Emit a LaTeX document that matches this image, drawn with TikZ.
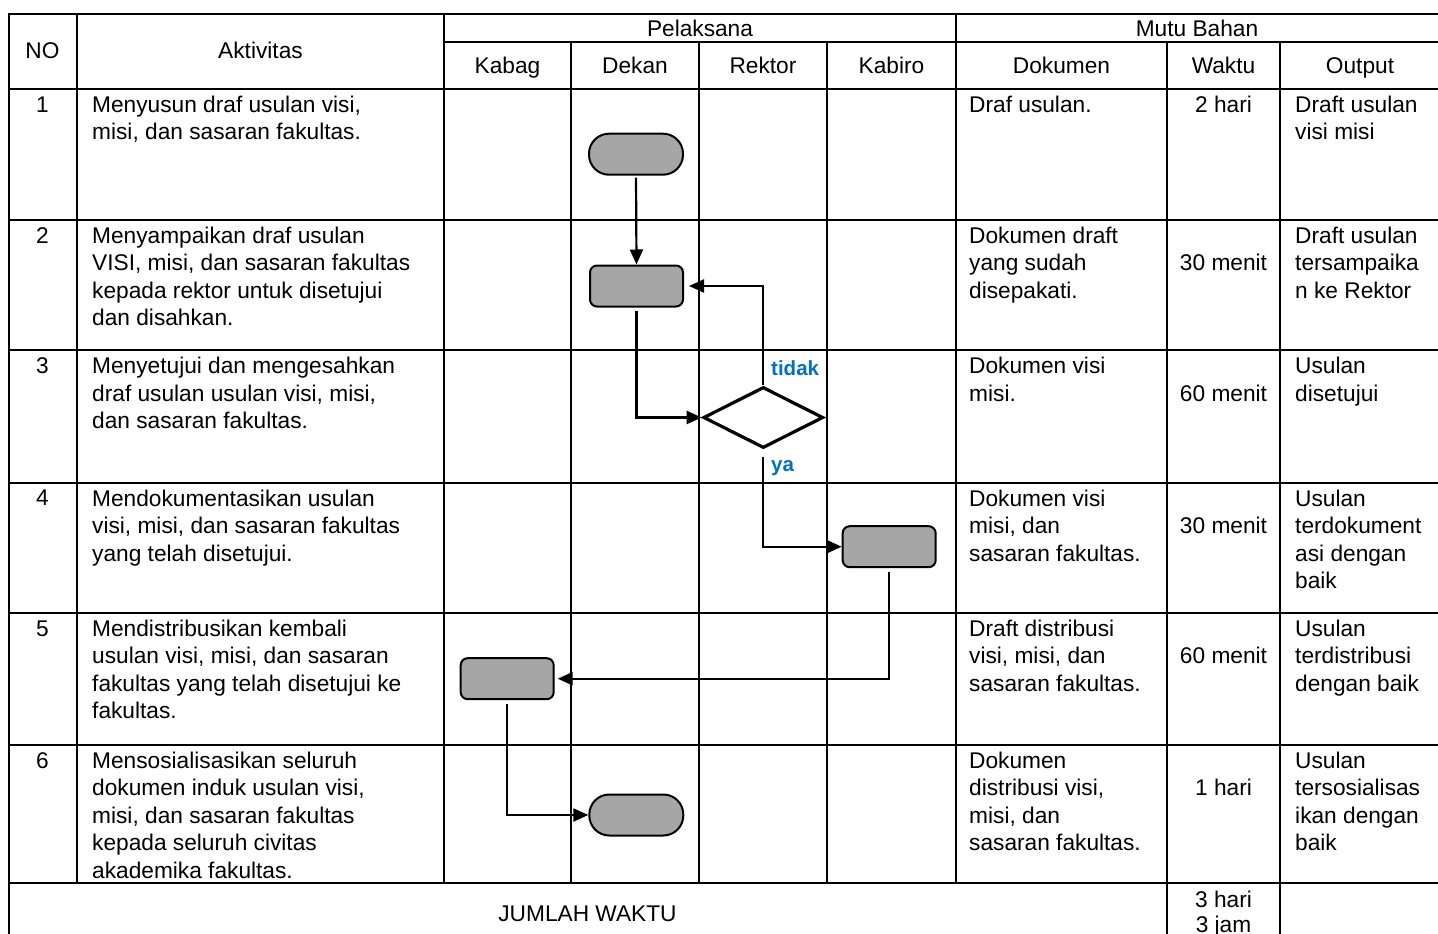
\documentclass[tikz,border=0pt]{standalone}
\usepackage{fontspec}
\setmainfont{Liberation Sans}
\usetikzlibrary{arrows.meta,shapes.geometric}
\definecolor{shapegray}{HTML}{A6A6A6}
\definecolor{lblblue}{RGB}{0,112,192}
\newcommand\cellfont{\fontsize{22.7}{27.5}\selectfont}
\tikzset{
  grid/.style={line width=2pt, line cap=rect},
  cell/.style={font=\cellfont, anchor=north west, inner sep=0pt, align=left},
  ctext/.style={font=\cellfont, anchor=base, inner sep=0pt, align=center},
  terminal/.style={draw=black, line width=2pt, fill=shapegray, minimum width=94pt, minimum height=41pt, rounded corners=20pt, inner sep=0pt},
  process/.style={draw=black, line width=2pt, fill=shapegray, minimum width=93pt, minimum height=41pt, rounded corners=7pt, inner sep=0pt},
  decision/.style={diamond, draw=black, line width=3.2pt, fill=white, minimum width=120pt, minimum height=61pt, inner sep=0pt},
  conn/.style={line width=2.2pt, -{Triangle[length=15pt,width=13pt]}},
  lbl/.style={font=\fontsize{20.5}{24}\selectfont\bfseries, text=lblblue, inner sep=0pt, anchor=west}
}
\begin{document}
\begin{tikzpicture}[x=1pt,y=-1pt]
\useasboundingbox (0,0) rectangle (1438,934);
% ---------- table grid ----------
\foreach \yy in {14.5,88.7,219.5,350,482.7,612.7,744.7,883.3}
  \draw[grid] (8.5,\yy) -- (1440,\yy);
\draw[grid] (444,42.5) -- (1440,42.5);
\draw[grid] (8.5,14.5) -- (8.5,940);
\foreach \xx in {77,444,956}
  \draw[grid] (\xx,14.5) -- (\xx,883.3);
\foreach \xx in {571,699,827}
  \draw[grid] (\xx,42.5) -- (\xx,883.3);
\foreach \xx in {1167,1280}
  \draw[grid] (\xx,42.5) -- (\xx,940);
% ---------- header ----------
\node[ctext] (hno) at (42.5,59) {NO};
\node[ctext] (hakt) at (260.5,59) {Aktivitas};
\node[ctext] (hpel) at (700,37) {Pelaksana};
\node[ctext] (hmutu) at (1197,37) {Mutu Bahan};
\node[ctext] (hkabag) at (507.5,74) {Kabag};
\node[ctext] (hdekan) at (635,74) {Dekan};
\node[ctext] (hrektor) at (763,74) {Rektor};
\node[ctext] (hkabiro) at (891.5,74) {Kabiro};
\node[ctext] (hdok) at (1061.5,74) {Dokumen};
\node[ctext] (hwaktu) at (1223.5,74) {Waktu};
\node[ctext] (hout) at (1360,74) {Output};
% ---------- row 1 ----------
\node[ctext] (n1) at (42.5,112.2) {1};
\node[cell] (a1) at (92,92.95) {\strut Menyusun draf usulan visi,\\misi, dan sasaran fakultas.};
\node[cell] (d1) at (969,92.95) {\strut Draf usulan.};
\node[ctext] (w1) at (1223.5,112.2) {2 hari};
\node[cell] (o1) at (1295,92.95) {\strut Draft usulan\\visi misi};
% ---------- row 2 ----------
\node[ctext] (n2) at (42.5,243) {2};
\node[cell] (a2) at (92,223.75) {\strut Menyampaikan draf usulan\\VISI, misi, dan sasaran fakultas\\kepada rektor untuk disetujui\\dan disahkan.};
\node[cell] (d2) at (969,223.75) {\strut Dokumen draft\\yang sudah\\disepakati.};
\node[ctext] (w2) at (1223.5,270.5) {30 menit};
\node[cell] (o2) at (1295,223.75) {\strut Draft usulan\\tersampaika\\n ke Rektor};
% ---------- row 3 ----------
\node[ctext] (n3) at (42.5,373.5) {3};
\node[cell] (a3) at (92,354.25) {\strut Menyetujui dan mengesahkan\\draf usulan usulan visi, misi,\\dan sasaran fakultas.};
\node[cell] (d3t) at (969,354.25) {\strut Dokumen visi\\misi.};
\node[ctext] (w3) at (1223.5,401) {60 menit};
\node[cell] (o3) at (1295,354.25) {\strut Usulan\\disetujui};
% ---------- row 4 ----------
\node[ctext] (n4) at (42.5,505.2) {4};
\node[cell] (a4) at (92,486.95) {\strut Mendokumentasikan usulan\\visi, misi, dan sasaran fakultas\\yang telah disetujui.};
\node[cell] (d4) at (969,486.95) {\strut Dokumen visi\\misi, dan\\sasaran fakultas.};
\node[ctext] (w4) at (1223.5,533.7) {30 menit};
\node[cell] (o4) at (1295,486.95) {\strut Usulan\\terdokument\\asi dengan\\baik};
% ---------- row 5 ----------
\node[ctext] (n5) at (42.5,636.2) {5};
\node[cell] (a5) at (92,616.95) {\strut Mendistribusikan kembali\\usulan visi, misi, dan sasaran\\fakultas yang telah disetujui ke\\fakultas.};
\node[cell] (d5) at (969,616.95) {\strut Draft distribusi\\visi, misi, dan\\sasaran fakultas.};
\node[ctext] (w5) at (1223.5,663.7) {60 menit};
\node[cell] (o5) at (1295,616.95) {\strut Usulan\\terdistribusi\\dengan baik};
% ---------- row 6 ----------
\node[ctext] (n6) at (42.5,768.2) {6};
\node[cell] (a6) at (92,748.95) {\strut Mensosialisasikan seluruh\\dokumen induk usulan visi,\\misi, dan sasaran fakultas\\kepada seluruh civitas\\akademika fakultas.};
\node[cell] (d6) at (969,748.95) {\strut Dokumen\\distribusi visi,\\misi, dan\\sasaran fakultas.};
\node[ctext] (w6) at (1223.5,795.7) {1 hari};
\node[cell] (o6) at (1295,748.95) {\strut Usulan\\tersosialisas\\ikan dengan\\baik};
% ---------- total ----------
\node[ctext] (jml) at (587.5,921.5) {JUMLAH WAKTU};
\node[ctext] (tot1) at (1223.5,907) {3 hari};
\node[ctext] (tot2) at (1223.5,932) {3 jam};
% ---------- flow shapes ----------
\node[terminal] (t1) at (636,154.2) {};
\node[process] (p2) at (636.5,286) {};
\node[decision] (dd) at (763.3,417.5) {};
\node[process] (p4) at (889.2,546.7) {};
\node[process] (p5) at (507.2,678.7) {};
\node[terminal] (t6) at (636.3,815) {};
% ---------- connectors ----------
\draw[conn, shorten <=2pt] (t1.south) -- (p2.north);
\draw[conn, shorten <=3pt] (p2.south) |- (dd.west);
\draw[conn, shorten >=5pt] (dd.north) |- (p2.east);
\draw[conn, shorten <=7pt] (dd.south) |- (p4.west);
\draw[conn, shorten <=4pt, shorten >=3pt] (p4.south) |- (p5.east);
\draw[conn, shorten <=4pt] (p5.south) |- (t6.west);
% ---------- labels ----------
\node[lbl] (ltidak) at (771,368) {tidak};
\node[lbl] (lya) at (771,468) {ya};
\end{tikzpicture}
\end{document}
